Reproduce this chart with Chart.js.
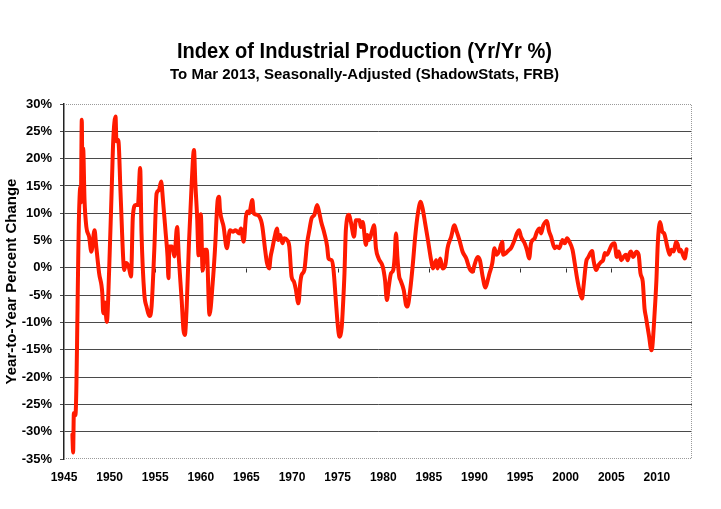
<!DOCTYPE html>
<html>
<head>
<meta charset="utf-8">
<script src="https://cdn.jsdelivr.net/npm/chart.js@4.4.1/dist/chart.umd.min.js"></script>
<style>
  html, body { margin: 0; padding: 0; background: #ffffff; }
  #wrap { position: relative; width: 721px; height: 509px; }
</style>
</head>
<body>
<div id="wrap"><canvas id="c" width="721" height="509"></canvas></div>
<script>
// ---- Data ----
const chartTitle = "Index of Industrial Production (Yr/Yr %)";
const chartSubtitle = "To Mar 2013, Seasonally-Adjusted (ShadowStats, FRB)";
const yAxisTitle = "Year-to-Year Percent Change";

// decimal year of each reading
const years = [
  1945.92, 1946.0, 1946.08, 1946.25, 1946.65, 1946.8, 1946.85, 1946.95, 1947.02, 1947.1,
  1947.25, 1947.45, 1947.75, 1948.0, 1948.35, 1948.5, 1948.85, 1949.2, 1949.3, 1949.45,
  1949.7, 1949.95, 1950.25, 1950.4, 1950.65, 1950.75, 1950.95, 1951.2, 1951.5, 1951.6,
  1951.8, 1952.1, 1952.35, 1952.55, 1952.85, 1953.1, 1953.35, 1953.5, 1953.8, 1954.05,
  1954.4, 1954.6, 1954.9, 1955.15, 1955.4, 1955.65, 1955.85, 1956.15, 1956.35, 1956.45,
  1956.55, 1956.85, 1957.1, 1957.4, 1957.6, 1957.9, 1958.1, 1958.25, 1958.45, 1958.7,
  1959.0, 1959.25, 1959.4, 1959.6, 1959.75, 1960.0, 1960.2, 1960.45, 1960.65, 1960.95,
  1961.3, 1961.55, 1961.85, 1962.0, 1962.1, 1962.5, 1962.85, 1963.2, 1963.55, 1963.8,
  1964.2, 1964.4, 1964.7, 1964.95, 1965.1, 1965.3, 1965.65, 1965.8, 1966.2, 1966.6,
  1966.75, 1967.05, 1967.25, 1967.5, 1967.65, 1967.85, 1968.1, 1968.35, 1968.5, 1968.7,
  1968.95, 1969.15, 1969.45, 1969.7, 1969.95, 1970.2, 1970.4, 1970.7, 1970.9, 1971.05,
  1971.35, 1971.65, 1971.9, 1972.15, 1972.45, 1972.75, 1973.0, 1973.2, 1973.55, 1973.85,
  1974.0, 1974.35, 1974.55, 1974.8, 1975.0, 1975.2, 1975.45, 1975.6, 1975.75, 1975.9,
  1976.25, 1976.45, 1976.8, 1977.0, 1977.4, 1977.55, 1977.75, 1978.1, 1978.25, 1978.45,
  1978.8, 1979.0, 1979.2, 1979.5, 1979.95, 1980.2, 1980.4, 1980.6, 1980.85, 1981.1,
  1981.25, 1981.4, 1981.55, 1981.75, 1981.9, 1982.25, 1982.5, 1982.65, 1982.95, 1983.25,
  1983.5, 1983.8, 1984.1, 1984.3, 1984.6, 1984.9, 1985.25, 1985.45, 1985.8, 1985.95,
  1986.25, 1986.5, 1986.8, 1987.05, 1987.45, 1987.8, 1988.0, 1988.35, 1988.7, 1989.1,
  1989.45, 1989.8, 1990.0, 1990.35, 1990.6, 1990.9, 1991.2, 1991.45, 1991.65, 1991.95,
  1992.2, 1992.4, 1992.7, 1993.05, 1993.15, 1993.45, 1993.8, 1994.0, 1994.4, 1994.65,
  1994.9, 1995.1, 1995.5, 1995.75, 1996.0, 1996.2, 1996.6, 1996.85, 1997.15, 1997.3,
  1997.55, 1997.95, 1998.15, 1998.4, 1998.8, 1999.0, 1999.3, 1999.65, 1999.9, 2000.15,
  2000.4, 2000.75, 2001.0, 2001.25, 2001.55, 2001.8, 2001.95, 2002.25, 2002.5, 2002.9,
  2003.05, 2003.35, 2003.6, 2003.9, 2004.1, 2004.3, 2004.5, 2004.8, 2005.05, 2005.35,
  2005.6, 2005.8, 2006.1, 2006.35, 2006.6, 2006.8, 2007.0, 2007.15, 2007.4, 2007.75,
  2008.0, 2008.2, 2008.45, 2008.65, 2008.8, 2009.15, 2009.4, 2009.5, 2009.75, 2009.95,
  2010.1, 2010.35, 2010.6, 2010.8, 2011.1, 2011.4, 2011.6, 2011.85, 2012.1, 2012.3,
  2012.45, 2012.6, 2013.05, 2013.25
];

// year-to-year percent change at each reading
const pctChange = [
  -30.5, -33.8, -26.6, -27.0, 10.0, 14.8, 12.0, 27.1, 15.5, 21.9,
  12.4, 7.5, 5.7, 2.95, 6.9, 4.5, -1.0, -4.7, -8.3, -6.3,
  -9.9, -0.4, 15.5, 23.4, 27.7, 23.2, 23.4, 13.7, 1.4, -0.4,
  0.9, 0.2, -1.6, 9.4, 11.5, 11.5, 18.3, 6.3, -4.7, -7.1,
  -8.8, -7.1, 3.3, 13.6, 14.2, 15.8, 12.4, 6.3, 2.1, -1.9,
  3.9, 3.9, 2.1, 7.5, 1.5, -5.9, -11.4, -12.3, -7.1, 4.5,
  15.5, 21.6, 15.5, 9.1, 2.3, 9.8, -0.5, 3.3, 3.3, -8.6,
  -2.8, 3.3, 12.4, 13.0, 10.6, 7.5, 3.6, 6.9, 6.6, 6.9,
  6.3, 7.2, 4.8, 9.4, 10.3, 10.0, 12.4, 10.0, 9.7, 8.7,
  7.5, 3.3, 0.9, -0.1, 2.0, 3.6, 5.7, 7.2, 5.1, 6.0,
  4.5, 5.4, 5.1, 3.9, -1.6, -2.5, -3.8, -6.5, -2.8, -1.3,
  -0.4, 4.5, 6.9, 9.1, 9.7, 11.5, 10.0, 8.4, 6.3, 3.9,
  1.7, 1.4, -0.4, -5.9, -10.2, -12.6, -10.8, -6.5, -1.0, 6.9,
  9.7, 8.4, 5.7, 8.7, 8.7, 7.5, 8.4, 4.2, 6.0, 5.1,
  6.9, 7.8, 3.6, 1.7, 0.2, -2.3, -5.9, -3.5, -1.0, -0.4,
  2.0, 6.3, 2.0, -1.6, -2.3, -4.1, -6.8, -7.1, -4.1, 0.8,
  5.7, 10.0, 12.1, 11.0, 8.1, 5.1, 1.4, -0.1, 1.4, -0.1,
  1.7, -0.1, 0.5, 3.6, 5.7, 7.8, 6.9, 5.1, 2.95, 1.7,
  -0.1, -0.7, 0.5, 2.0, 1.4, -1.6, -3.6, -2.3, -1.0, 0.8,
  3.6, 2.4, 3.0, 4.8, 2.4, 2.7, 3.3, 3.6, 5.1, 6.3,
  6.9, 5.7, 4.5, 3.3, 1.7, 4.5, 5.4, 6.6, 7.2, 6.3,
  7.8, 8.6, 6.9, 5.7, 3.6, 3.9, 3.6, 5.1, 4.5, 5.4,
  4.8, 3.3, 0.8, -1.9, -4.4, -5.6, -3.5, 1.1, 2.0, 3.1,
  1.4, -0.4, 0.5, 1.1, 1.4, 2.7, 2.4, 3.3, 4.2, 4.5,
  2.0, 3.0, 1.4, 2.0, 2.4, 1.4, 2.65, 3.0, 2.0, 2.95,
  2.4, -1.0, -2.5, -7.5, -9.0, -12.6, -15.1, -14.5, -8.3, -2.2,
  4.5, 8.4, 6.6, 6.3, 4.2, 2.4, 3.3, 3.0, 4.8, 4.2,
  3.0, 3.3, 1.7, 3.4
];

// axis ticks
const yTicks = [-35, -30, -25, -20, -15, -10, -5, 0, 5, 10, 15, 20, 25, 30];
const xTickYears = [1945, 1950, 1955, 1960, 1965, 1970, 1975, 1980, 1985, 1990, 1995, 2000, 2005, 2010];

// ---- Chart ----
const FONT = '"Liberation Sans", Arial, sans-serif';

function drawCondensed(ctx, text, cx, y, targetWidth) {
  const w = ctx.measureText(text).width;
  const k = Math.min(1, targetWidth / w);
  ctx.save();
  ctx.translate(cx, y);
  ctx.scale(k, 1);
  ctx.fillText(text, 0, 0);
  ctx.restore();
}

const titlePlugin = {
  id: 'titles',
  afterDraw(chart) {
    const ctx = chart.ctx;
    ctx.save();
    ctx.fillStyle = '#000';
    ctx.textAlign = 'center';
    ctx.textBaseline = 'alphabetic';
    ctx.font = 'bold 22px ' + FONT;
    drawCondensed(ctx, chartTitle, 364.5, 58, 375);
    ctx.font = 'bold 15px ' + FONT;
    drawCondensed(ctx, chartSubtitle, 364.5, 79, 391);
    ctx.restore();
  }
};

const frameAndTicks = {
  id: 'frameAndTicks',
  beforeDatasetsDraw(chart) {
    const ctx = chart.ctx;
    const a = chart.chartArea;
    const xs = chart.scales.x, ys = chart.scales.y;
    ctx.save();
    // dotted light frame on top, right, bottom
    ctx.strokeStyle = '#9a9a9a';
    ctx.lineWidth = 1;
    ctx.setLineDash([1, 1]);
    ctx.beginPath();
    ctx.moveTo(a.left, a.top + 0.5);
    ctx.lineTo(a.right - 0.5, a.top + 0.5);
    ctx.lineTo(a.right - 0.5, a.bottom - 0.5);
    ctx.lineTo(a.left, a.bottom - 0.5);
    ctx.stroke();
    ctx.setLineDash([]);
    // small x tick marks on the 0% line
    const y0 = Math.round(ys.getPixelForValue(0)) + 0.5;
    ctx.strokeStyle = '#333';
    ctx.beginPath();
    xTickYears.forEach(yr => {
      if (yr === xTickYears[0]) return;
      const px = Math.round(xs.getPixelForValue(yr)) + 0.5;
      ctx.moveTo(px, y0);
      ctx.lineTo(px, y0 + 4);
    });
    ctx.stroke();
    ctx.restore();
  }
};

new Chart(document.getElementById('c'), {
  type: 'line',
  data: {
    datasets: [{
      data: years.map((x, i) => ({ x: x, y: pctChange[i] })),
      borderColor: '#ff1a00',
      borderWidth: 4,
      pointRadius: 0,
      fill: false,
      cubicInterpolationMode: 'monotone',
      borderJoinStyle: 'round',
      borderCapStyle: 'round'
    }]
  },
  options: {
    responsive: false,
    animation: false,
    devicePixelRatio: 1,
    layout: { padding: { top: 104, right: 29, left: 0, bottom: 0 } },
    plugins: { legend: { display: false }, tooltip: { enabled: false }, title: { display: false } },
    scales: {
      x: {
        type: 'linear',
        min: 1945,
        max: 2013.85,
        afterBuildTicks(scale) { scale.ticks = xTickYears.map(v => ({ value: v })); },
        ticks: {
          autoSkip: false,
          maxRotation: 0,
          padding: 11,
          color: '#000',
          font: { family: FONT, size: 12, weight: 'bold' },
          callback: v => String(v)
        },
        grid: { display: false, drawTicks: false },
        border: { display: false },
        afterFit(scale) { scale.height = 50; }
      },
      y: {
        min: -35,
        max: 30,
        afterBuildTicks(scale) { scale.ticks = yTicks.map(v => ({ value: v })); },
        ticks: {
          padding: 8,
          color: '#000',
          font: { family: FONT, size: 13, weight: 'bold' },
          callback: v => v + '%'
        },
        grid: {
          color: ctx => (ctx.tick && (ctx.tick.value === 30 || ctx.tick.value === -35)) ? 'rgba(0,0,0,0)' : '#4a4a4a',
          tickColor: '#4a4a4a',
          lineWidth: 1,
          tickLength: 4,
          drawTicks: true
        },
        border: { display: true, color: '#222', width: 1.5 },
        title: {
          display: true,
          text: yAxisTitle,
          color: '#000',
          font: { family: FONT, size: 15, weight: 'bold' },
          padding: { top: 3, bottom: 0 }
        },
        afterFit(scale) { scale.width = 64; }
      }
    }
  },
  plugins: [titlePlugin, frameAndTicks]
});
</script>
</body>
</html>
